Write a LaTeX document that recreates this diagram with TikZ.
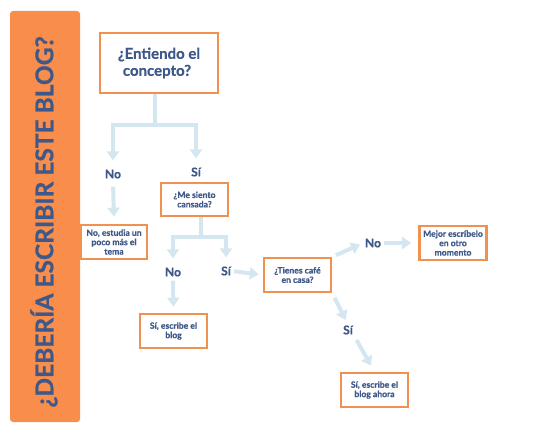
\documentclass[tikz,border=0pt]{standalone}
\usepackage{fontspec}
\setmainfont{Lato}[BoldFeatures={FakeBold=0.7}]
\usetikzlibrary{arrows.meta}
\definecolor{barOrange}{HTML}{F98E4C}
\definecolor{boxOrange}{HTML}{F0914F}
\definecolor{textBlue}{HTML}{3E5889}
\definecolor{arrowBlue}{HTML}{D4E6EF}
\begin{document}
\begin{tikzpicture}
[x=1pt,y=-1pt,
  boxDecorate/.style={draw=boxOrange,line width=2.6pt,fill=white,align=center,
    inner sep=1pt,text=textBlue,font=\bfseries\fontsize{8.6}{9.4}\selectfont},%
  labelDecorate/.style={text=textBlue,inner sep=1pt,font=\bfseries\fontsize{12}{13}\selectfont},%
  lineDecorate/.style={draw=arrowBlue,line width=4pt},%
  arrowDecorate/.style={lineDecorate,-{Triangle[width=12pt,length=9pt]}}]
\useasboundingbox (0,0) rectangle (539,428);
%% side bar with title
\fill[barOrange,rounded corners=3pt] (10,11) rectangle (80,422);
\node (title) at (44,222) [rotate=90,text=textBlue,
  font=\bfseries\fontsize{24.5}{26}\selectfont] {¿DEBERÍA ESCRIBIR ESTE BLOG?};
%% boxes
\node (concepto) at (159,63) [boxDecorate,minimum width=118pt,minimum height=60pt,
  font=\bfseries\fontsize{15}{17}\selectfont] {¿Entiendo el\\concepto?\hspace*{4pt}};
\foreach \boxname/\x/\y/\w/\h/\boxtext in {
  tema/114/242/66/34/{No, estudia un\\poco más el\\tema},
  cansada/194.5/199.5/67/33/{¿Me siento\\cansada?},
  blog/173.5/331/67/34/{Sí, escribe el\\blog},
  cafe/297.5/275/67/34/{¿Tienes café\\en casa?},
  momento/453/243/67/34/{Mejor escríbelo\\en otro\\momento},
  ahora/374.5/390/67/34/{Sí, escribe el\\blog ahora}}
{
  \node (\boxname) at (\x,\y) [boxDecorate,minimum width=\w pt,minimum height=\h pt] {\boxtext};
}
%% answers
\foreach \nodename/\x/\y/\answer in {
  no1/113/174/No, si1/196/172/Sí, no2/173/272/No, si2/226/271/Sí,
  no3/373/243/No, si3/348/330/Sí}
{
  \node (\nodename) at (\x,\y) [labelDecorate] {\answer};
}
%% connectors
\coordinate (j1) at (155,125);
\coordinate (j2) at (201,237);
\draw[lineDecorate] (concepto.south -| j1) -- (j1);
\draw[arrowDecorate,shorten >=8pt] (j1) -| (no1.north);
\draw[arrowDecorate,shorten >=8pt] (j1) -| (si1.north);
\draw[arrowDecorate,shorten <=7pt,shorten >=7pt] (no1.south) -- (tema.north);
\draw[lineDecorate] (cansada.south -| j2) -- (j2);
\draw[arrowDecorate,shorten >=8pt] (j2) -| (no2.north);
\draw[arrowDecorate,shorten >=8pt] (j2) -| (si2.north);
\draw[arrowDecorate,shorten <=3pt,shorten >=6pt] (no2.south) -- (blog.north);
\draw[arrowDecorate,shorten <=2pt,shorten >=4pt] (si2.east) -- (cafe.west);
\draw[arrowDecorate,shorten <=4pt,shorten >=4pt] (cafe.north east) -- (no3.west);
\draw[arrowDecorate,shorten <=2pt,shorten >=7pt] (no3.east) -- (momento.west);
\draw[arrowDecorate,shorten <=5pt,shorten >=5pt] (cafe.south east) -- (si3.north);
\draw[arrowDecorate,shorten <=5pt,shorten >=7pt] (si3.south east) -- (ahora.north);
\end{tikzpicture}
\end{document}
